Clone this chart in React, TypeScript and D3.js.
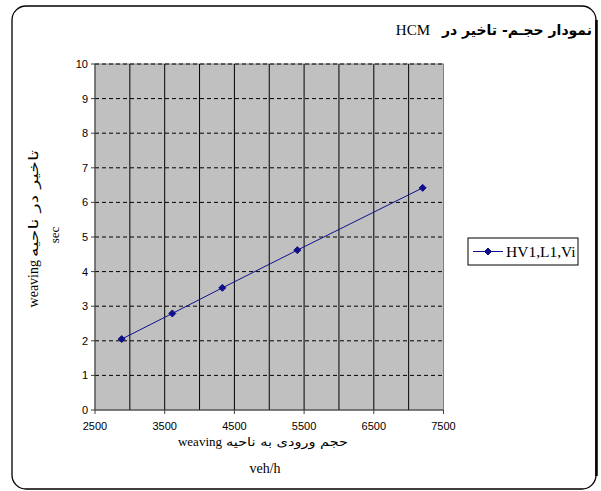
import React from "react";
import * as d3 from "d3";

const seriesName = "HV1,L1,Vi";
const xValues = [2883, 3609, 4327, 5403, 7201];
const yValues = [2.05, 2.79, 3.53, 4.62, 6.42];
const xTicks = [2500, 3500, 4500, 5500, 6500, 7500];
const xGrid = [3000, 3500, 4000, 4500, 5000, 5500, 6000, 6500, 7000];
const yTicks = [0, 1, 2, 3, 4, 5, 6, 7, 8, 9, 10];
const titleFa = "نمودار حجـم- تاخیر در";
const titleEn = "HCM";
const yTitleFa = "تاخیر در ناحیه";
const yTitleEn = "weaving";
const yUnit = "sec";
const xTitleFa = "حجم ورودی به ناحیه";
const xTitleEn = "weaving";
const xUnit = "veh/h";

export default function App() {
  const W = 601, H = 491;
  const left = 95, right = 443.5, top = 64, bottom = 410;
  const x = d3.scaleLinear().domain([2500, 7500]).range([left, right]);
  const y = d3.scaleLinear().domain([0, 10]).range([bottom, top]);
  const line = d3.line<number>().x((_, i) => x(xValues[i])).y((d) => y(d));
  const navy = "#10108a";
  const diamond = (cx: number, cy: number, r: number) =>
    `M${cx},${cy - r}L${cx + r},${cy}L${cx},${cy + r}L${cx - r},${cy}Z`;
  const sans = "'Liberation Sans', Arial, 'DejaVu Sans', sans-serif";
  const serif = "'Liberation Serif', 'Times New Roman', 'DejaVu Sans', serif";
  const fa = "'DejaVu Sans', sans-serif";
  return (
    <svg width={W} height={H} style={{ position: "absolute", left: 0, top: 0, background: "#fff" }}>
      {/* outer frame */}
      <rect x={12} y={6} width={584} height={483} rx={14} ry={14} fill="none" stroke="#000" strokeWidth={1.3} />
      <line x1={596.5} y1={20} x2={596.5} y2={476} stroke="#000" strokeWidth={2.5} />
      {/* title */}
      <text x={442} y={35} textLength={150} lengthAdjust="spacingAndGlyphs" fontFamily={fa} fontWeight="bold" fontSize={14} fill="#000">{titleFa}</text>
      <text x={430} y={35} textAnchor="end" fontFamily={serif} fontSize={15} fill="#000">{titleEn}</text>
      {/* plot area */}
      <rect x={left} y={top} width={right - left} height={bottom - top} fill="#c0c0c0" stroke="#808080" strokeWidth={1} />
      {xGrid.map((v) => (
        <line key={"xg" + v} x1={x(v)} x2={x(v)} y1={top} y2={bottom} stroke="#000" strokeWidth={1} />
      ))}
      {yTicks.filter((v) => v > 0).map((v) => (
        <line key={"yg" + v} x1={left} x2={right} y1={y(v)} y2={y(v)} stroke="#000" strokeWidth={1} strokeDasharray="4,3" />
      ))}
      {/* axes */}
      <line x1={left} x2={left} y1={top} y2={bottom} stroke="#404040" strokeWidth={1} />
      <line x1={left} x2={right} y1={bottom} y2={bottom} stroke="#404040" strokeWidth={1.2} />
      {yTicks.map((v) => (
        <g key={"yt" + v}>
          <line x1={left - 4} x2={left} y1={y(v)} y2={y(v)} stroke="#404040" />
          <text x={left - 7} y={y(v) + 4} textAnchor="end" fontFamily={sans} fontSize={11} fill="#000">{v}</text>
        </g>
      ))}
      {xTicks.map((v) => (
        <g key={"xt" + v}>
          <line x1={x(v)} x2={x(v)} y1={bottom} y2={bottom + 4} stroke="#404040" />
          <text x={x(v)} y={bottom + 20} textAnchor="middle" fontFamily={sans} fontSize={11} fill="#000">{v}</text>
        </g>
      ))}
      {/* series */}
      <path d={line(yValues) || ""} fill="none" stroke={navy} strokeWidth={1} />
      {yValues.map((v, i) => (
        <path key={"m" + i} d={diamond(x(xValues[i]), y(v), 3.5)} fill={navy} stroke={navy} />
      ))}
      {/* y title */}
      <g transform="translate(38,227) rotate(-90)">
        <text x={-30} y={0} textLength={107} lengthAdjust="spacingAndGlyphs" fontFamily={fa} fontSize={13} fill="#000">{yTitleFa}</text>
        <text x={-33} y={0} textAnchor="end" fontFamily={serif} fontSize={14} fill="#000">{yTitleEn}</text>
      </g>
      <g transform="translate(59,235) rotate(-90)">
        <text x={0} y={0} textAnchor="middle" fontFamily={serif} fontSize={13} fill="#000">{yUnit}</text>
      </g>
      {/* x title */}
      <text x={226} y={446} textLength={122} lengthAdjust="spacingAndGlyphs" fontFamily={fa} fontSize={12} fill="#000">{xTitleFa}</text>
      <text x={222} y={446} textAnchor="end" fontFamily={serif} fontSize={13} fill="#000">{xTitleEn}</text>
      <text x={265} y={473} textAnchor="middle" fontFamily={serif} fontSize={14} fill="#000">{xUnit}</text>
      {/* legend */}
      <rect x={468} y={238} width={110} height={27} fill="#fff" stroke="#000" strokeWidth={1} />
      <line x1={473} x2={503} y1={251.5} y2={251.5} stroke={navy} strokeWidth={1} />
      <path d={diamond(488, 251.5, 3.5)} fill={navy} stroke={navy} />
      <text x={506} y={257} fontFamily={serif} fontSize={15.5} fill="#000">{seriesName}</text>
    </svg>
  );
}
